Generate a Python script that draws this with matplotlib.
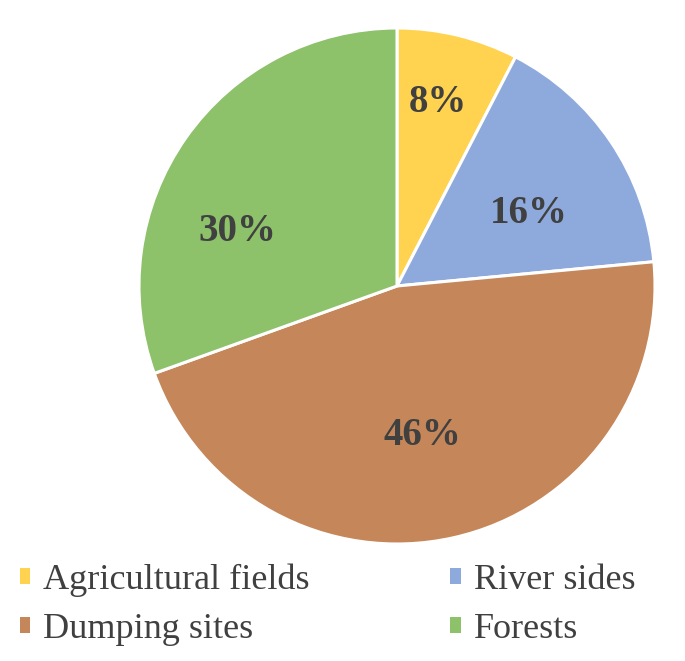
import matplotlib
matplotlib.use("Agg")
import matplotlib.pyplot as plt
from matplotlib.patches import Patch

categories = ["Agricultural fields", "River sides", "Dumping sites", "Forests"]
shares = [7.6, 15.9, 46.0, 30.5]
share_labels = ["8%", "16%", "46%", "30%"]
colors = ["#FFD34F", "#8EAADC", "#C5875A", "#8DC16A"]
# label anchor points in pie units (Excel "best fit" placement)
label_pos = [(0.16, 0.71), (0.51, 0.28), (0.10, -0.58), (-0.62, 0.21)]

plt.rcParams["font.family"] = ["Liberation Serif", "DejaVu Serif"]

fig = plt.figure(figsize=(6.85, 6.61), dpi=100)
ax = fig.add_axes([139 / 685, 117 / 661, 516 / 685, 516 / 661])

wedges, _ = ax.pie(shares, colors=colors, startangle=90, counterclock=False,
                   radius=1.0,
                   wedgeprops=dict(edgecolor="white", linewidth=2.2))
ax.set_xlim(-1, 1)
ax.set_ylim(-1, 1)
ax.set_aspect("equal")
ax.axis("off")

for lab, (x, y) in zip(share_labels, label_pos):
    ax.text(x, y, lab, ha="center", va="center", fontsize=28,
            fontweight="bold", color="#404040")

# row-major legend: matplotlib fills columns first
order = [0, 2, 1, 3]
handles = [Patch(facecolor=colors[i], edgecolor="none") for i in order]
fig.legend(handles, [categories[i] for i in order], ncol=2, loc="center",
           bbox_to_anchor=(0.478, 0.085), frameon=False, fontsize=26,
           handlelength=0.3, handleheight=0.3, handletextpad=0.35,
           columnspacing=3.9, labelspacing=0.45, labelcolor="#404040")

fig.savefig("out.png", dpi=100)
